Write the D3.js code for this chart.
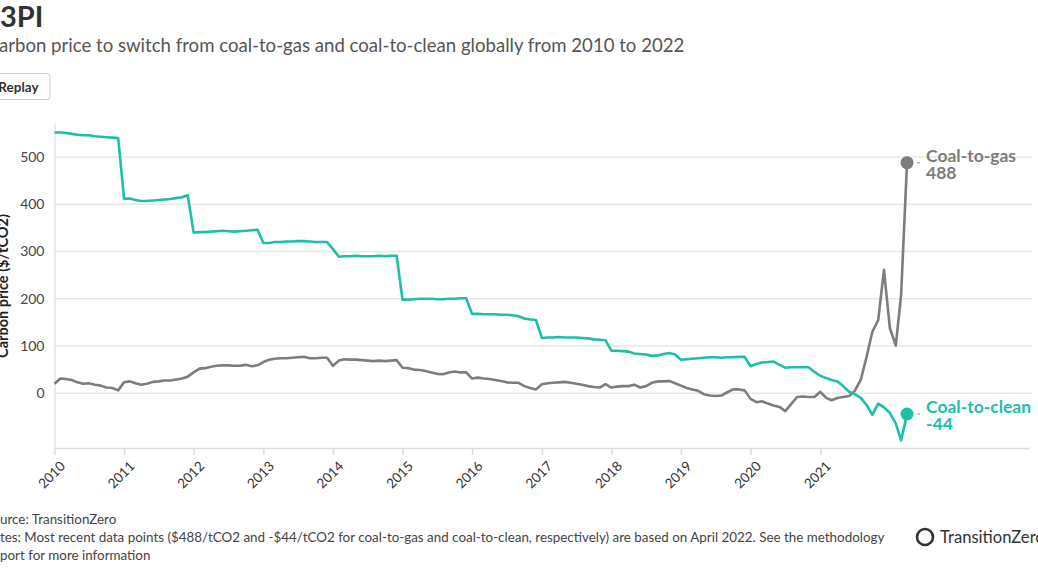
<!DOCTYPE html>
<html>
<head>
<meta charset="utf-8">
<script src="https://cdn.jsdelivr.net/npm/d3@7"></script>
<style>
  body { margin: 0; background: #fff; overflow: hidden; }
  svg { display: block; font-family: Lato, "Open Sans", sans-serif; }
</style>
</head>
<body>
<svg id="chart" width="1038" height="576"></svg>
<script>
// monthly values, Jan 2010 .. Apr 2022 ($/tCO2)
var coalToGas = [
	20, 31, 30, 28, 23, 20, 21, 18, 16, 12, 11, 6,
	23, 25, 21, 18, 20, 24, 25, 27, 27, 29, 31, 35,
	44, 52, 53, 56, 58, 59, 59, 58, 58, 60, 57, 59,
	66, 71, 73, 74, 74, 75, 76, 77, 74, 74, 75, 75,
	58, 69, 72, 71, 71, 70, 69, 68, 69, 68, 69, 70,
	54, 53, 50, 49, 47, 44, 41, 40, 44, 46, 44, 44,
	31, 33, 31, 30, 28, 26, 23, 22, 22, 15, 11, 8,
	19, 21, 22, 23, 24, 22, 20, 18, 15, 13, 12, 19,
	12, 14, 15, 15, 18, 12, 15, 22, 25, 25, 26, 21,
	16, 11, 8, 5, -2, -5, -6, -5, 2, 8, 8, 6,
	-12, -19, -17, -22, -26, -29, -38, -23, -8, -7, -8, -8,
	3, -10, -15, -10, -8, -6, 5, 28, 77, 130, 155, 261,
	138, 101, 208, 488
];
var coalToClean = [
	552, 552, 551, 549, 547, 546, 546, 544, 543, 542, 541, 540,
	412, 412, 409, 407, 407, 408, 409, 410, 411, 413, 415, 419,
	340, 341, 341, 342, 343, 344, 343, 342, 343, 344, 345, 346,
	318, 318, 320, 320, 321, 321, 322, 322, 321, 320, 320, 320,
	305, 289, 290, 290, 291, 290, 290, 290, 291, 290, 291, 291,
	198, 198, 199, 200, 200, 200, 199, 199, 200, 200, 201, 201,
	168, 168, 167, 167, 167, 166, 166, 165, 163, 158, 156, 155,
	117, 118, 118, 119, 118, 118, 118, 117, 116, 114, 113, 112,
	90, 90, 89, 88, 84, 83, 82, 79, 80, 83, 85, 82,
	71, 72, 73, 74, 75, 76, 76, 75, 76, 76, 77, 77,
	57, 62, 65, 66, 67, 60, 54, 55, 55, 55, 55, 45,
	37, 32, 28, 25, 15, 3, -2, -10, -25, -46, -22, -30,
	-42, -64, -100, -44
];
var yTicks = [0, 100, 200, 300, 400, 500];
var xTickYears = [2010, 2011, 2012, 2013, 2014, 2015, 2016, 2017, 2018, 2019, 2020, 2021];
var seriesNames = ['Coal-to-gas', 'Coal-to-clean'];

var TEAL = '#1dbfa8', GREY = '#7d7d7d';

var svg = d3.select('#chart');
var months = coalToGas.map(function(d, i){ return new Date(2010, i, 1); });

var x = d3.scaleTime()
	.domain([new Date(2010, 0, 1), new Date(2024, 0, 1)])
	.range([54.5, 1029]);
var y = d3.scaleLinear()
	.domain([-116, 572])
	.range([448, 123]);

// text that starts left of the page edge: shift it so the hidden prefix falls off
function cutText(sel, hidden, full, visX){
	var t = sel.text(hidden);
	var w = t.node().getComputedTextLength();
	t.text(full).attr('x', visX - w);
	return t;
}

// header
cutText(svg.append('text')
	.attr('y', 27)
	.attr('font-size', 29)
	.attr('font-weight', 700)
	.attr('fill', '#333'), 'C', 'C3PI', 0);

cutText(svg.append('text')
	.attr('y', 52)
	.attr('font-size', 18.6)
	.attr('fill', '#555'), 'C', 'Carbon price to switch from coal-to-gas and coal-to-clean globally from 2010 to 2022', -1);

svg.append('rect')
	.attr('x', -20).attr('y', 73.5)
	.attr('width', 70).attr('height', 26)
	.attr('rx', 3)
	.attr('fill', '#fff')
	.attr('stroke', '#ccc');
cutText(svg.append('text')
	.attr('y', 92)
	.attr('font-size', 13.5)
	.attr('font-weight', 700)
	.attr('fill', '#333'), 'R', 'Replay', 7);

// grid
svg.append('g')
	.selectAll('line')
	.data(yTicks)
	.join('line')
		.attr('x1', 55).attr('x2', 1032)
		.attr('y1', function(d){ return y(d); })
		.attr('y2', function(d){ return y(d); })
		.attr('stroke', '#e8e8e8')
		.attr('stroke-width', 1.5);

// y axis
var yAxis = svg.append('g')
	.attr('transform', 'translate(54.5,0)')
	.call(d3.axisLeft(y).tickValues(yTicks).tickSize(0).tickPadding(10));
yAxis.select('.domain').attr('stroke', '#e3e3e3').attr('stroke-width', 1.5);
yAxis.selectAll('text')
	.attr('font-family', 'Lato, sans-serif')
	.attr('font-size', 14)
	.attr('fill', '#444');

svg.append('text')
	.attr('transform', 'translate(8,286) rotate(-90)')
	.attr('text-anchor', 'middle')
	.attr('font-size', 14.5)
	.attr('font-weight', 700)
	.attr('fill', '#222')
	.text('Carbon price ($/tCO2)');

// x axis
var xAxis = svg.append('g')
	.attr('transform', 'translate(0,448)')
	.call(d3.axisBottom(x)
		.tickValues(xTickYears.map(function(yr){ return new Date(yr, 0, 1); }))
		.tickFormat(d3.timeFormat('%Y'))
		.tickSize(7)
		.tickSizeOuter(0));
xAxis.select('.domain').attr('stroke', '#ddd').attr('stroke-width', 1.5);
xAxis.selectAll('.tick line').attr('stroke', '#ddd').attr('stroke-width', 1.5);
xAxis.selectAll('text')
	.attr('font-family', 'Lato, sans-serif')
	.attr('font-size', 13.5)
	.attr('fill', '#333')
	.attr('text-anchor', 'end')
	.attr('dy', null)
	.attr('transform', 'translate(4,12) rotate(-45)');

// lines
var line = d3.line()
	.x(function(d, i){ return x(months[i]); })
	.y(function(d){ return y(d); });

var series = [coalToGas, coalToClean];
var colors = [GREY, TEAL];

svg.append('g')
	.selectAll('path')
	.data(series)
	.join('path')
		.attr('d', line)
		.attr('fill', 'none')
		.attr('stroke', function(d, i){ return colors[i]; })
		.attr('stroke-width', 2.6)
		.attr('stroke-linejoin', 'round');

// end dots and labels
series.forEach(function(s, i){
	var last = s.length - 1;
	var cx = x(months[last]), cy = y(s[last]);
	svg.append('circle')
		.attr('cx', cx).attr('cy', cy)
		.attr('r', 6.5)
		.attr('fill', colors[i]);
	svg.append('line')
		.attr('x1', cx + 10).attr('x2', cx + 13)
		.attr('y1', cy).attr('y2', cy)
		.attr('stroke', '#999');
	var lbl = svg.append('text')
		.attr('y', cy - 1)
		.attr('font-size', 17.5)
		.attr('font-weight', 700)
		.attr('fill', colors[i]);
	lbl.append('tspan').attr('x', cx + 19).text(seriesNames[i]);
	lbl.append('tspan').attr('x', cx + 19).attr('dy', 17).text(String(s[last]));
});

// footer
var foot = svg.append('g')
	.attr('font-size', 13.4)
	.attr('fill', '#444');
cutText(foot.append('text').attr('y', 524), 'So', 'Source: TransitionZero', 0);
cutText(foot.append('text').attr('y', 542), 'No', 'Notes: Most recent data points ($488/tCO2 and -$44/tCO2 for coal-to-gas and coal-to-clean, respectively) are based on April 2022. See the methodology', 0);
cutText(foot.append('text').attr('y', 560), 're', 'report for more information', 0);

// logo
svg.append('circle')
	.attr('cx', 925).attr('cy', 537)
	.attr('r', 8)
	.attr('fill', 'none')
	.attr('stroke', '#333')
	.attr('stroke-width', 2.6);
svg.append('text')
	.attr('x', 940).attr('y', 543)
	.attr('font-size', 16.6)
	.attr('fill', '#333')
	.text('TransitionZero');
</script>
</body>
</html>
